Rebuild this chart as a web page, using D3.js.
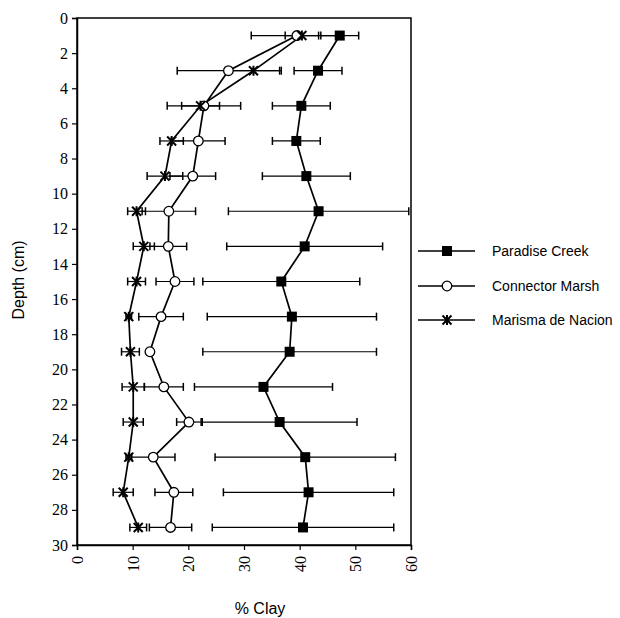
<!DOCTYPE html>
<html>
<head>
<meta charset="utf-8">
<script src="https://cdn.jsdelivr.net/npm/d3@7"></script>
<style>
  body { margin: 0; background: #fff; }
  svg { display: block; }
</style>
</head>
<body>
<svg id="chart" width="620" height="618"></svg>
<script>
// Profundidades (cm)
const depths = [1, 3, 5, 7, 9, 11, 13, 15, 17, 19, 21, 23, 25, 27, 29];

// % arcilla (media) y desviación por sitio
const paradiseMean = [47.2, 43.3, 40.3, 39.4, 41.2, 43.4, 40.9, 36.7, 38.6, 38.2, 33.5, 36.4, 41.0, 41.6, 40.6];
const paradiseErr  = [3.4, 4.3, 5.2, 4.3, 7.9, 16.2, 14.0, 14.1, 15.2, 15.6, 12.4, 13.9, 16.2, 15.3, 16.3];

const connectorMean = [39.5, 27.2, 22.8, 21.8, 20.8, 16.5, 16.4, 17.6, 15.1, 13.1, 15.6, 20.1, 13.7, 17.4, 16.8];
const connectorErr  = [8.2, 9.2, 6.6, 4.8, 4.1, 4.8, 3.3, 3.4, 4.0, 0.5, 3.5, 2.2, 3.9, 3.4, 3.8];

const marismaMean = [40.4, 31.7, 22.2, 17.0, 15.8, 10.7, 12.0, 10.7, 9.3, 9.6, 10.1, 10.1, 9.3, 8.3, 11.0];
const marismaErr  = [3.0, 5.0, 3.4, 2.1, 3.2, 1.6, 1.9, 1.6, 0.5, 1.6, 2.0, 1.8, 0.5, 1.8, 1.5];

const seriesNames = ["Paradise Creek", "Connector Marsh", "Marisma de Nacion"];
const xTicks = [0, 10, 20, 30, 40, 50, 60];
const yTicks = [0, 2, 4, 6, 8, 10, 12, 14, 16, 18, 20, 22, 24, 26, 28, 30];

const series = [
  { name: seriesNames[0], mean: paradiseMean, err: paradiseErr, marker: "square" },
  { name: seriesNames[1], mean: connectorMean, err: connectorErr, marker: "circle" },
  { name: seriesNames[2], mean: marismaMean, err: marismaErr, marker: "star" }
];

const svg = d3.select("#chart");
const plot = { left: 77, right: 411, top: 18, bottom: 545 };
const serif = "'Liberation Serif', 'Times New Roman', serif";
const sans = "'Liberation Sans', Arial, sans-serif";

const x = d3.scaleLinear().domain([0, 60]).range([plot.left, plot.right]);
const y = d3.scaleLinear().domain([0, 30]).range([plot.top, plot.bottom]);

// Marco
svg.append("rect")
  .attr("x", plot.left).attr("y", plot.top)
  .attr("width", plot.right - plot.left).attr("height", plot.bottom - plot.top)
  .attr("fill", "none").attr("stroke", "#000").attr("stroke-width", 1.5);

// Ejes
const yAxis = svg.append("g")
  .attr("transform", `translate(${plot.left},0)`)
  .call(d3.axisLeft(y).tickValues(yTicks).tickSize(5).tickPadding(4));

const xAxis = svg.append("g")
  .attr("transform", `translate(0,${plot.bottom})`)
  .call(d3.axisBottom(x).tickValues(xTicks).tickSize(5));

[yAxis, xAxis].forEach(g => {
  g.attr("font-family", serif).attr("font-size", 16);
  g.select(".domain").attr("stroke", "#000").attr("stroke-width", 1.5);
  g.selectAll(".tick line").attr("stroke", "#000").attr("stroke-width", 1.2);
  g.selectAll(".tick text").style("font-family", serif).style("font-size", "16px").attr("fill", "#000");
});

xAxis.selectAll(".tick text")
  .attr("transform", "rotate(-90)")
  .attr("x", -11)
  .attr("y", 0)
  .attr("dy", "0.35em")
  .style("text-anchor", "end");

// Títulos de ejes
svg.append("text")
  .attr("transform", `translate(24,280) rotate(-90)`)
  .attr("text-anchor", "middle")
  .style("font-family", sans)
  .style("font-size", "16px")
  .text("Depth (cm)");

svg.append("text")
  .attr("x", 260).attr("y", 614)
  .attr("text-anchor", "middle")
  .style("font-family", sans)
  .style("font-size", "16px")
  .text("% Clay");

// Dibuja un marcador
function drawMarker(g, type, cx, cy) {
  if (type === "square") {
    g.append("rect")
      .attr("x", cx - 5).attr("y", cy - 5)
      .attr("width", 10).attr("height", 10)
      .attr("fill", "#000");
  } else if (type === "circle") {
    g.append("circle")
      .attr("cx", cx).attr("cy", cy).attr("r", 4.8)
      .attr("fill", "#fff").attr("stroke", "#000").attr("stroke-width", 1.3);
  } else {
    const r = 4.5;
    g.append("path")
      .attr("d", `M${cx - r},${cy - r}L${cx + r},${cy + r}M${cx - r},${cy + r}L${cx + r},${cy - r}M${cx},${cy - r - 0.5}L${cx},${cy + r + 0.5}`)
      .attr("stroke", "#000").attr("stroke-width", 2).attr("fill", "none");
  }
}

const line = d3.line().x(d => x(d.v)).y(d => y(d.d));

// Barras de error
series.forEach(s => {
  const pts = depths.map((d, i) => ({ d, v: s.mean[i], e: s.err[i] }));
  const g = svg.append("g");
  pts.forEach(p => {
    const x0 = x(p.v - p.e), x1 = x(p.v + p.e), yy = y(p.d);
    g.append("line").attr("x1", x0).attr("x2", x1).attr("y1", yy).attr("y2", yy)
      .attr("stroke", "#000").attr("stroke-width", 1.2);
    [x0, x1].forEach(xc => {
      g.append("line").attr("x1", xc).attr("x2", xc).attr("y1", yy - 4).attr("y2", yy + 4)
        .attr("stroke", "#000").attr("stroke-width", 1.5);
    });
  });
});

// Líneas y marcadores
series.forEach(s => {
  const pts = depths.map((d, i) => ({ d, v: s.mean[i] }));
  svg.append("path")
    .datum(pts)
    .attr("d", line)
    .attr("fill", "none")
    .attr("stroke", "#000")
    .attr("stroke-width", 1.7);
});

series.forEach(s => {
  const g = svg.append("g");
  depths.forEach((d, i) => drawMarker(g, s.marker, x(s.mean[i]), y(d)));
});

// Leyenda
const legendY = [251, 286, 320];
series.forEach((s, i) => {
  const g = svg.append("g");
  g.append("line")
    .attr("x1", 418).attr("x2", 475).attr("y1", legendY[i]).attr("y2", legendY[i])
    .attr("stroke", "#000").attr("stroke-width", 1.5);
  drawMarker(g, s.marker, 447, legendY[i]);
  g.append("text")
    .attr("x", 492).attr("y", legendY[i]).attr("dy", "0.35em")
    .style("font-family", sans)
    .style("font-size", "14px")
    .text(s.name);
});
</script>
</body>
</html>
